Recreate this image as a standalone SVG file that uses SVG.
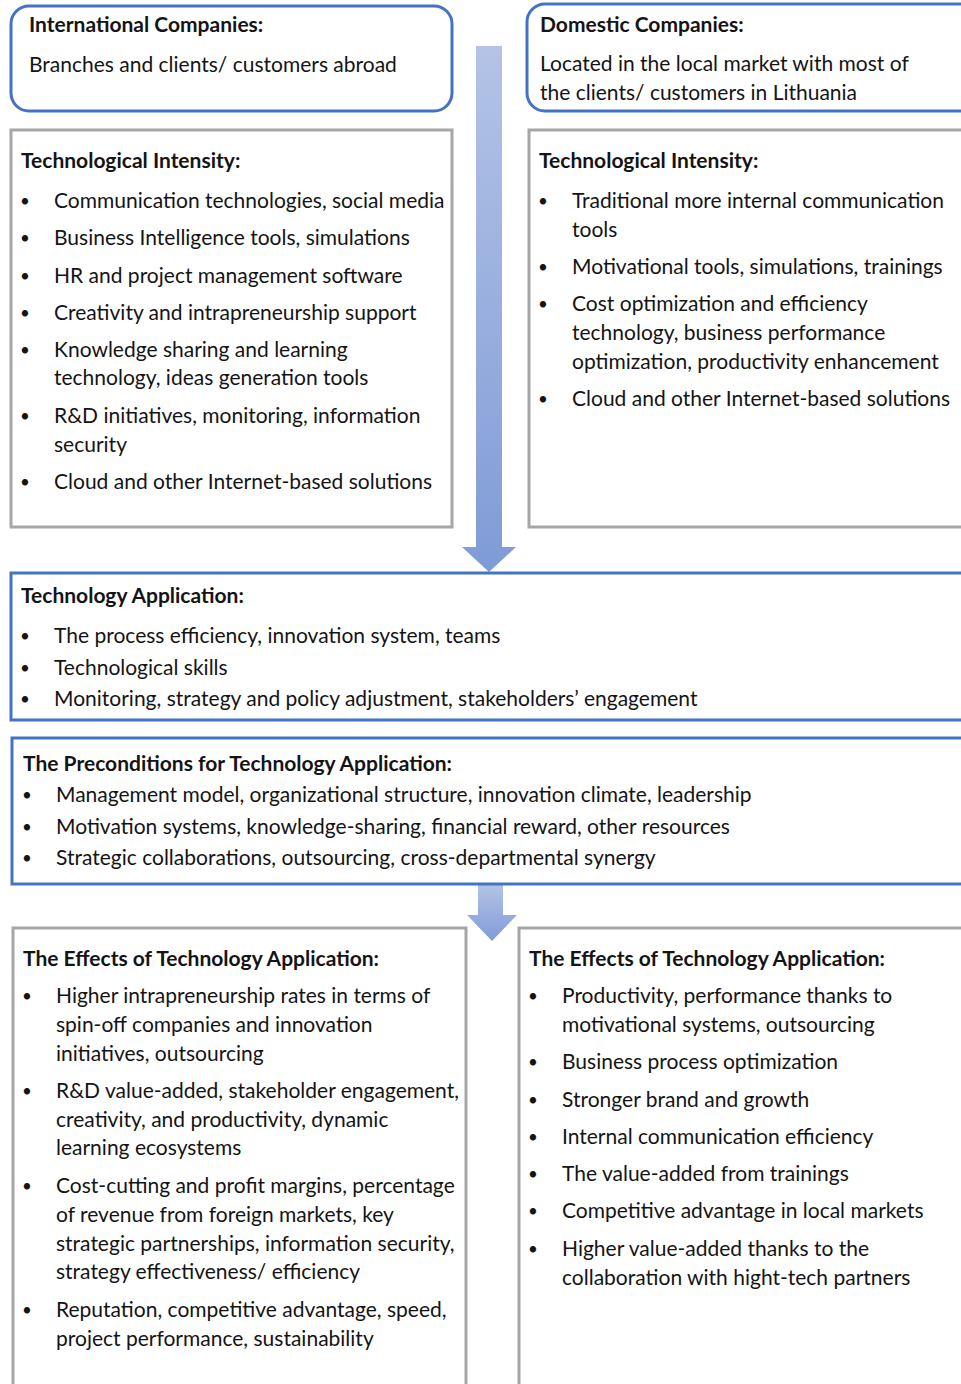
<svg xmlns="http://www.w3.org/2000/svg" width="961" height="1384" viewBox="0 0 961 1384">
<defs>
<linearGradient id="ag" x1="0" y1="0" x2="0" y2="1">
<stop offset="0" stop-color="#b4c3e6"/>
<stop offset="1" stop-color="#7f9bd7"/>
</linearGradient>
<style>
text{font-family:Lato,"Liberation Sans",sans-serif;font-size:21px;fill:#141414}
.b{font-weight:bold}
.d{font-size:17px}
.blue{fill:#fff;stroke:#4472c4;stroke-width:3}
.gray{fill:#fff;stroke:#a6a6a6;stroke-width:3}
</style>
</defs>
<rect width="961" height="1384" fill="#fff"/>
<g id="connectors">
<path d="M476,46 H502 V547 H516 L489,572 L462,547 H476 Z" fill="url(#ag)"/>
<path d="M478,885 H503 V915 H517 L492,941 L467,915 H478 Z" fill="url(#ag)"/>
</g>
<g id="intl">
<rect class="blue" x="11" y="6" width="441" height="105" rx="18"/>
<text class="b" x="29" y="32">International Companies:</text>
<text x="29" y="72">Branches and clients/ customers abroad</text>
</g>
<g id="domestic">
<rect class="blue" x="527" y="4" width="460" height="107" rx="18"/>
<text class="b" x="540" y="32">Domestic Companies:</text>
<text x="540" y="71">Located in the local market with most of</text>
<text x="540" y="100">the clients/ customers in Lithuania</text>
</g>
<g id="tech-int-left">
<rect class="gray" x="11" y="130" width="441" height="397"/>
<text class="b" x="21" y="168">Technological Intensity:</text>
<text class="d" x="20" y="207">•</text><text x="54" y="208">Communication technologies, social media</text>
<text class="d" x="20" y="244">•</text><text x="54" y="245">Business Intelligence tools, simulations</text>
<text class="d" x="20" y="282">•</text><text x="54" y="283">HR and project management software</text>
<text class="d" x="20" y="319">•</text><text x="54" y="320">Creativity and intrapreneurship support</text>
<text class="d" x="20" y="356">•</text><text x="54" y="357">Knowledge sharing and learning</text>
<text x="54" y="385">technology, ideas generation tools</text>
<text class="d" x="20" y="422">•</text><text x="54" y="423">R&amp;D initiatives, monitoring, information</text>
<text x="54" y="452">security</text>
<text class="d" x="20" y="488">•</text><text x="54" y="489">Cloud and other Internet-based solutions</text>
</g>
<g id="tech-int-right">
<rect class="gray" x="529" y="130" width="460" height="397"/>
<text class="b" x="539" y="168">Technological Intensity:</text>
<text class="d" x="538" y="207">•</text><text x="572" y="208">Traditional more internal communication</text>
<text x="572" y="237">tools</text>
<text class="d" x="538" y="273">•</text><text x="572" y="274">Motivational tools, simulations, trainings</text>
<text class="d" x="538" y="310">•</text><text x="572" y="311">Cost optimization and efficiency</text>
<text x="572" y="340">technology, business performance</text>
<text x="572" y="369">optimization, productivity enhancement</text>
<text class="d" x="538" y="405">•</text><text x="572" y="406">Cloud and other Internet-based solutions</text>
</g>
<g id="tech-app">
<rect class="blue" x="11" y="573" width="980" height="147"/>
<text class="b" x="21" y="603">Technology Application:</text>
<text class="d" x="20" y="642">•</text><text x="54" y="643">The process efficiency, innovation system, teams</text>
<text class="d" x="20" y="674">•</text><text x="54" y="675">Technological skills</text>
<text class="d" x="20" y="705">•</text><text x="54" y="706">Monitoring, strategy and policy adjustment, stakeholders’ engagement</text>
</g>
<g id="preconditions">
<rect class="blue" x="12" y="738" width="980" height="146"/>
<text class="b" x="23" y="771">The Preconditions for Technology Application:</text>
<text class="d" x="22" y="801">•</text><text x="56" y="802">Management model, organizational structure, innovation climate, leadership</text>
<text class="d" x="22" y="833">•</text><text x="56" y="834">Motivation systems, knowledge-sharing, financial reward, other resources</text>
<text class="d" x="22" y="864">•</text><text x="56" y="865">Strategic collaborations, outsourcing, cross-departmental synergy</text>
</g>
<g id="effects-left">
<rect class="gray" x="13" y="928" width="453" height="480"/>
<text class="b" x="23" y="966">The Effects of Technology Application:</text>
<text class="d" x="22" y="1002">•</text><text x="56" y="1003">Higher intrapreneurship rates in terms of</text>
<text x="56" y="1032">spin-off companies and innovation</text>
<text x="56" y="1061">initiatives, outsourcing</text>
<text class="d" x="22" y="1097">•</text><text x="56" y="1098">R&amp;D value-added, stakeholder engagement,</text>
<text x="56" y="1127">creativity, and productivity, dynamic</text>
<text x="56" y="1155">learning ecosystems</text>
<text class="d" x="22" y="1192">•</text><text x="56" y="1193">Cost-cutting and profit margins, percentage</text>
<text x="56" y="1222">of revenue from foreign markets, key</text>
<text x="56" y="1251">strategic partnerships, information security,</text>
<text x="56" y="1279">strategy effectiveness/ efficiency</text>
<text class="d" x="22" y="1316">•</text><text x="56" y="1317">Reputation, competitive advantage, speed,</text>
<text x="56" y="1346">project performance, sustainability</text>
</g>
<g id="effects-right">
<rect class="gray" x="519" y="928" width="470" height="480"/>
<text class="b" x="529" y="966">The Effects of Technology Application:</text>
<text class="d" x="528" y="1002">•</text><text x="562" y="1003">Productivity, performance thanks to</text>
<text x="562" y="1032">motivational systems, outsourcing</text>
<text class="d" x="528" y="1068">•</text><text x="562" y="1069">Business process optimization</text>
<text class="d" x="528" y="1106">•</text><text x="562" y="1107">Stronger brand and growth</text>
<text class="d" x="528" y="1143">•</text><text x="562" y="1144">Internal communication efficiency</text>
<text class="d" x="528" y="1180">•</text><text x="562" y="1181">The value-added from trainings</text>
<text class="d" x="528" y="1217">•</text><text x="562" y="1218">Competitive advantage in local markets</text>
<text class="d" x="528" y="1255">•</text><text x="562" y="1256">Higher value-added thanks to the</text>
<text x="562" y="1285">collaboration with hight-tech partners</text>
</g>
</svg>
